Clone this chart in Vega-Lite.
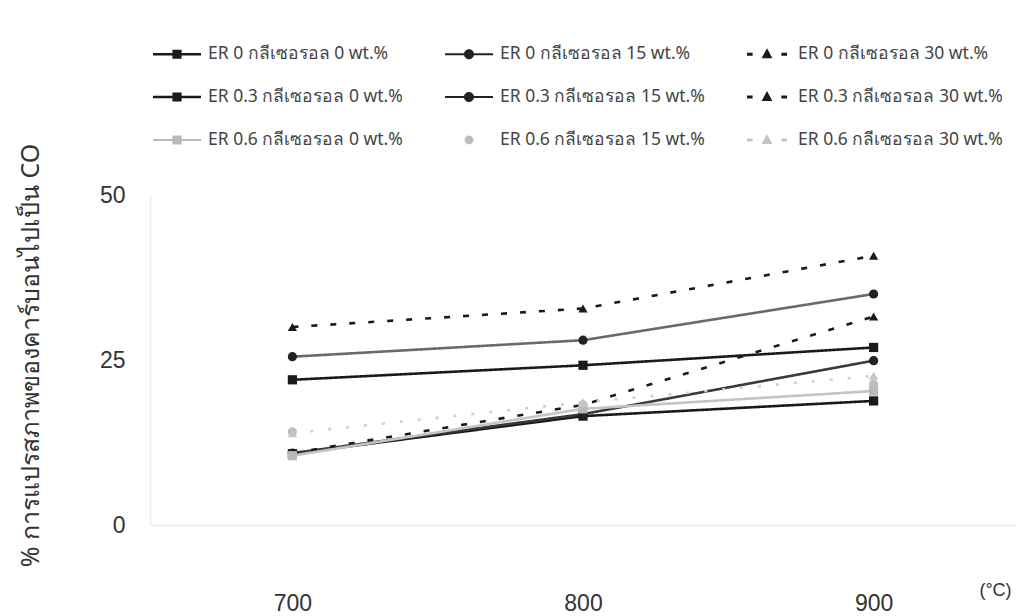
{
  "$schema": "https://vega.github.io/schema/vega-lite/v6.json",
  "width": 866,
  "height": 330,
  "autosize": {"type": "none"},
  "padding": {"left": 150, "top": 195, "right": 0, "bottom": 91},
  "background": "white",
  "data": {
    "values": [
      {"er": 0, "gly": 0, "series": "ER 0 กลีเซอรอล 0 wt.%", "temp": 700, "co": 10.8},
      {"er": 0, "gly": 0, "series": "ER 0 กลีเซอรอล 0 wt.%", "temp": 800, "co": 16.5},
      {"er": 0, "gly": 0, "series": "ER 0 กลีเซอรอล 0 wt.%", "temp": 900, "co": 18.8},
      {"er": 0, "gly": 15, "series": "ER 0 กลีเซอรอล 15 wt.%", "temp": 700, "co": 25.5},
      {"er": 0, "gly": 15, "series": "ER 0 กลีเซอรอล 15 wt.%", "temp": 800, "co": 28.0},
      {"er": 0, "gly": 15, "series": "ER 0 กลีเซอรอล 15 wt.%", "temp": 900, "co": 35.0},
      {"er": 0, "gly": 30, "series": "ER 0 กลีเซอรอล 30 wt.%", "temp": 700, "co": 30.0},
      {"er": 0, "gly": 30, "series": "ER 0 กลีเซอรอล 30 wt.%", "temp": 800, "co": 32.8},
      {"er": 0, "gly": 30, "series": "ER 0 กลีเซอรอล 30 wt.%", "temp": 900, "co": 40.8},
      {"er": 0.3, "gly": 0, "series": "ER 0.3 กลีเซอรอล 0 wt.%", "temp": 700, "co": 22.0},
      {"er": 0.3, "gly": 0, "series": "ER 0.3 กลีเซอรอล 0 wt.%", "temp": 800, "co": 24.2},
      {"er": 0.3, "gly": 0, "series": "ER 0.3 กลีเซอรอล 0 wt.%", "temp": 900, "co": 26.9},
      {"er": 0.3, "gly": 15, "series": "ER 0.3 กลีเซอรอล 15 wt.%", "temp": 700, "co": 10.9},
      {"er": 0.3, "gly": 15, "series": "ER 0.3 กลีเซอรอล 15 wt.%", "temp": 800, "co": 16.8},
      {"er": 0.3, "gly": 15, "series": "ER 0.3 กลีเซอรอล 15 wt.%", "temp": 900, "co": 24.9},
      {"er": 0.3, "gly": 30, "series": "ER 0.3 กลีเซอรอล 30 wt.%", "temp": 700, "co": 10.9},
      {"er": 0.3, "gly": 30, "series": "ER 0.3 กลีเซอรอล 30 wt.%", "temp": 800, "co": 18.2},
      {"er": 0.3, "gly": 30, "series": "ER 0.3 กลีเซอรอล 30 wt.%", "temp": 900, "co": 31.6},
      {"er": 0.6, "gly": 0, "series": "ER 0.6 กลีเซอรอล 0 wt.%", "temp": 700, "co": 10.5},
      {"er": 0.6, "gly": 0, "series": "ER 0.6 กลีเซอรอล 0 wt.%", "temp": 800, "co": 17.6},
      {"er": 0.6, "gly": 0, "series": "ER 0.6 กลีเซอรอล 0 wt.%", "temp": 900, "co": 20.3},
      {"er": 0.6, "gly": 15, "series": "ER 0.6 กลีเซอรอล 15 wt.%", "temp": 700, "co": 14.1},
      {"er": 0.6, "gly": 15, "series": "ER 0.6 กลีเซอรอล 15 wt.%", "temp": 800, "co": 18.2},
      {"er": 0.6, "gly": 15, "series": "ER 0.6 กลีเซอรอล 15 wt.%", "temp": 900, "co": 21.3},
      {"er": 0.6, "gly": 30, "series": "ER 0.6 กลีเซอรอล 30 wt.%", "temp": 700, "co": 13.9},
      {"er": 0.6, "gly": 30, "series": "ER 0.6 กลีเซอรอล 30 wt.%", "temp": 800, "co": 18.6},
      {"er": 0.6, "gly": 30, "series": "ER 0.6 กลีเซอรอล 30 wt.%", "temp": 900, "co": 22.6}
    ]
  },
  "encoding": {
    "x": {
      "field": "temp",
      "type": "ordinal",
      "scale": {"type": "point", "padding": 0.49},
      "axis": {
        "labelAngle": 0,
        "labelFont": "Liberation Sans",
        "labelFontSize": 23,
        "labelColor": "#333",
        "labelPadding": 67,
        "ticks": false,
        "domainColor": "#ececec",
        "domainWidth": 1.5,
        "title": "(°C)",
        "titleFont": "Liberation Sans",
        "titleFontSize": 18,
        "titleFontWeight": "normal",
        "titleColor": "#333",
        "titleX": 845,
        "titleY": 65,
        "titleAlign": "center",
        "titleBaseline": "middle"
      }
    },
    "y": {
      "field": "co",
      "type": "quantitative",
      "scale": {"domain": [0, 50], "nice": false},
      "axis": {
        "values": [0, 25, 50],
        "grid": false,
        "ticks": false,
        "labelFont": "Liberation Sans",
        "labelFontSize": 23,
        "labelColor": "#333",
        "labelPadding": 25,
        "domainColor": "#ececec",
        "domainWidth": 1.5,
        "title": "% การแปรสภาพของคาร์บอนไปเป็น CO",
        "titleFont": "Noto Sans",
        "titleFontSize": 25,
        "titleFontWeight": "normal",
        "titleColor": "#333",
        "titleX": -120,
        "titleY": 160,
        "titleAlign": "center",
        "titleBaseline": "middle"
      }
    }
  },
  "layer": [
    {
      "transform": [{"filter": "!(datum.er == 0.6 && datum.gly == 15)"}],
      "mark": {"type": "line", "strokeWidth": 2.6},
      "encoding": {
        "color": {
          "field": "series",
          "type": "nominal",
          "sort": null,
          "scale": {
            "domain": ["ER 0 กลีเซอรอล 0 wt.%", "ER 0 กลีเซอรอล 15 wt.%", "ER 0 กลีเซอรอล 30 wt.%", "ER 0.3 กลีเซอรอล 0 wt.%", "ER 0.3 กลีเซอรอล 15 wt.%", "ER 0.3 กลีเซอรอล 30 wt.%", "ER 0.6 กลีเซอรอล 0 wt.%", "ER 0.6 กลีเซอรอล 15 wt.%", "ER 0.6 กลีเซอรอล 30 wt.%"],
            "range": ["#1a1a1a", "#6a6a6a", "#1a1a1a", "#1a1a1a", "#3a3a3a", "#1a1a1a", "#c4c4c4", "#c8c8c8", "#cfcfcf"]
          },
          "legend": null
        },
        "strokeDash": {
          "field": "series",
          "type": "nominal",
          "sort": null,
          "scale": {
            "domain": ["ER 0 กลีเซอรอล 0 wt.%", "ER 0 กลีเซอรอล 15 wt.%", "ER 0 กลีเซอรอล 30 wt.%", "ER 0.3 กลีเซอรอล 0 wt.%", "ER 0.3 กลีเซอรอล 15 wt.%", "ER 0.3 กลีเซอรอล 30 wt.%", "ER 0.6 กลีเซอรอล 0 wt.%", "ER 0.6 กลีเซอรอล 15 wt.%", "ER 0.6 กลีเซอรอล 30 wt.%"],
            "range": [[1, 0], [1, 0], [6, 13], [1, 0], [1, 0], [6, 13], [1, 0], [1, 0], [3, 15]]
          },
          "legend": null
        }
      }
    },
    {
      "mark": {"type": "point", "filled": true, "opacity": 1, "size": 85},
      "encoding": {
        "color": {
          "field": "series",
          "type": "nominal",
          "sort": null,
          "title": null,
          "scale": {
            "domain": ["ER 0 กลีเซอรอล 0 wt.%", "ER 0 กลีเซอรอล 15 wt.%", "ER 0 กลีเซอรอล 30 wt.%", "ER 0.3 กลีเซอรอล 0 wt.%", "ER 0.3 กลีเซอรอล 15 wt.%", "ER 0.3 กลีเซอรอล 30 wt.%", "ER 0.6 กลีเซอรอล 0 wt.%", "ER 0.6 กลีเซอรอล 15 wt.%", "ER 0.6 กลีเซอรอล 30 wt.%"],
            "range": ["#1a1a1a", "#222222", "#1a1a1a", "#1a1a1a", "#222222", "#1a1a1a", "#b8b8b8", "#bdbdbd", "#c4c4c4"]
          },
          "legend": {
            "orient": "none",
            "legendX": 7,
            "legendY": -161,
            "direction": "horizontal",
            "columns": 3,
            "columnPadding": 42,
            "rowPadding": 14,
            "symbolSize": 1600,
            "symbolStrokeWidth": 0,
            "symbolOpacity": 1,
            "labelFont": "Noto Sans",
            "labelFontSize": 17.5,
            "labelColor": "#444",
            "labelOffset": 11,
            "labelLimit": 400,
            "encode": {
              "symbols": {
                "update": {
                  "shape": {"signal": "['M-1.2,-0.06H1.2V0.06H-1.2Z M-0.23,-0.23H0.23V0.23H-0.23Z','M-1.2,-0.05H1.2V0.05H-1.2Z M0.25,0A0.25,0.25,0,1,1,-0.25,0A0.25,0.25,0,1,1,0.25,0Z','M-1.0,-0.08H-0.72V0.08H-1.0Z M0,-0.3L0.27,0.2H-0.27Z M0.72,-0.08H1.0V0.08H0.72Z','M-1.2,-0.06H1.2V0.06H-1.2Z M-0.23,-0.23H0.23V0.23H-0.23Z','M-1.2,-0.05H1.2V0.05H-1.2Z M0.25,0A0.25,0.25,0,1,1,-0.25,0A0.25,0.25,0,1,1,0.25,0Z','M-1.0,-0.08H-0.72V0.08H-1.0Z M0,-0.3L0.27,0.2H-0.27Z M0.72,-0.08H1.0V0.08H0.72Z','M-1.2,-0.05H1.2V0.05H-1.2Z M-0.23,-0.23H0.23V0.23H-0.23Z','M0.22,0A0.22,0.22,0,1,1,-0.22,0A0.22,0.22,0,1,1,0.22,0Z','M-1.0,-0.08H-0.72V0.08H-1.0Z M0,-0.3L0.27,0.2H-0.27Z M0.72,-0.08H1.0V0.08H0.72Z'][datum.index]"}
                }
              }
            }
          }
        },
        "shape": {
          "field": "series",
          "type": "nominal",
          "sort": null,
          "scale": {
            "domain": ["ER 0 กลีเซอรอล 0 wt.%", "ER 0 กลีเซอรอล 15 wt.%", "ER 0 กลีเซอรอล 30 wt.%", "ER 0.3 กลีเซอรอล 0 wt.%", "ER 0.3 กลีเซอรอล 15 wt.%", "ER 0.3 กลีเซอรอล 30 wt.%", "ER 0.6 กลีเซอรอล 0 wt.%", "ER 0.6 กลีเซอรอล 15 wt.%", "ER 0.6 กลีเซอรอล 30 wt.%"],
            "range": ["square", "circle", "triangle-up", "square", "circle", "triangle-up", "square", "circle", "triangle-up"]
          },
          "legend": null
        }
      }
    }
  ],
  "resolve": {"scale": {"color": "independent"}},
  "config": {"view": {"stroke": null}}
}
